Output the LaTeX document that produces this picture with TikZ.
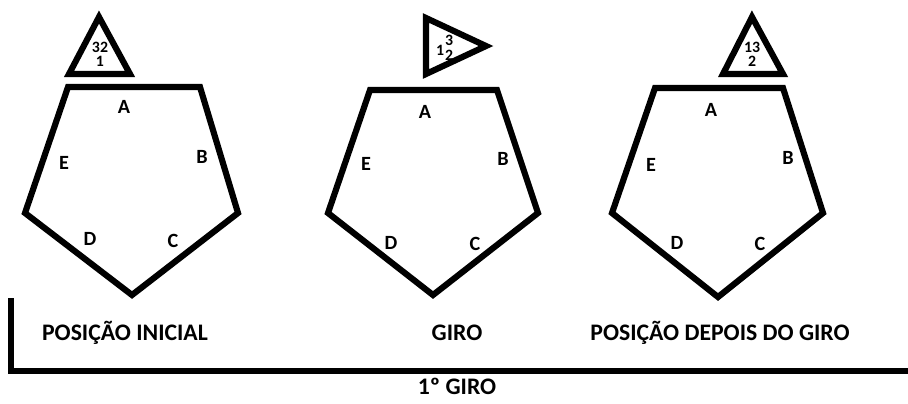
\documentclass[tikz,border=0pt]{standalone}
\usepackage{fontspec}
\setmainfont{Carlito}
\usepackage{tikz}
\usetikzlibrary{positioning}

\tikzset{
  thick line/.style={line width=3.5pt, line join=miter},
  vertex label/.style={font=\bfseries\fontsize{11.5}{13}\selectfont, inner sep=0pt},
  caption label/.style={font=\bfseries\fontsize{13.5}{15}\selectfont, inner sep=0pt},
  tri label/.style={font=\bfseries\fontsize{9}{10}\selectfont, inner sep=0pt}
}

\begin{document}
\begin{tikzpicture}[x=0.02cm, y=-0.02cm]

\useasboundingbox (0,0) rectangle (908,403);

% First pentagon: initial position
\draw[thick line] (68,87) -- (200,87) -- (238,213) -- (132,295) -- (25,213) -- cycle;
\node[vertex label] (a1) at (124,107) {A};
\node[vertex label] (b1) at (202,157) {B};
\node[vertex label] (c1) at (173,241) {C};
\node[vertex label] (d1) at (90,239) {D};
\node[vertex label] (e1) at (64,163) {E};

% Triangle on top
\draw[thick line] (99,17) -- (130,74) -- (69,74) -- cycle;
\node[tri label] (t1a) at (100,47) {32};
\node[tri label] (t1b) at (100,61) {1};

% Second pentagon: the turn
\draw[thick line] (370,90) -- (497,90) -- (538,213) -- (433,295) -- (328,213) -- cycle;
\node[vertex label] (a2) at (425,112) {A};
\node[vertex label] (b2) at (503,159) {B};
\node[vertex label] (c2) at (475,244) {C};
\node[vertex label] (d2) at (391,243) {D};
\node[vertex label] (e2) at (366,164) {E};

% Triangle turned to the right
\draw[thick line] (426,18) -- (486,46) -- (426,74) -- cycle;
\node[tri label] (t2a) at (440,50) {1};
\node[tri label] (t2b) at (449,40) {3};
\node[tri label] (t2c) at (449,55) {2};

% Third pentagon: after the turn
\draw[thick line] (655,88) -- (783,88) -- (823,213) -- (718,297) -- (612,213) -- cycle;
\node[vertex label] (a3) at (711,110) {A};
\node[vertex label] (b3) at (788,158) {B};
\node[vertex label] (c3) at (760,244) {C};
\node[vertex label] (d3) at (677,243) {D};
\node[vertex label] (e3) at (651,165) {E};

% Triangle on top
\draw[thick line] (752,17) -- (783,74) -- (723,74) -- cycle;
\node[tri label] (t3a) at (752,47) {13};
\node[tri label] (t3b) at (752,61) {2};

% Bracket under the pentagons
\coordinate (top) at (11,298);
\coordinate (corner) at (11,371);
\coordinate (end) at (908,371);
\draw[line width=3pt] (top) -- (corner) -- (end);

% Captions
\node[caption label] (initial) at (125,333) {POSIÇÃO INICIAL};
\node[caption label] (turn) at (457,333) {GIRO};
\node[caption label] (after) at (720,333) {POSIÇÃO DEPOIS DO GIRO};
\node[caption label] (first) at (457,386) {1º GIRO};

\end{tikzpicture}
\end{document}
